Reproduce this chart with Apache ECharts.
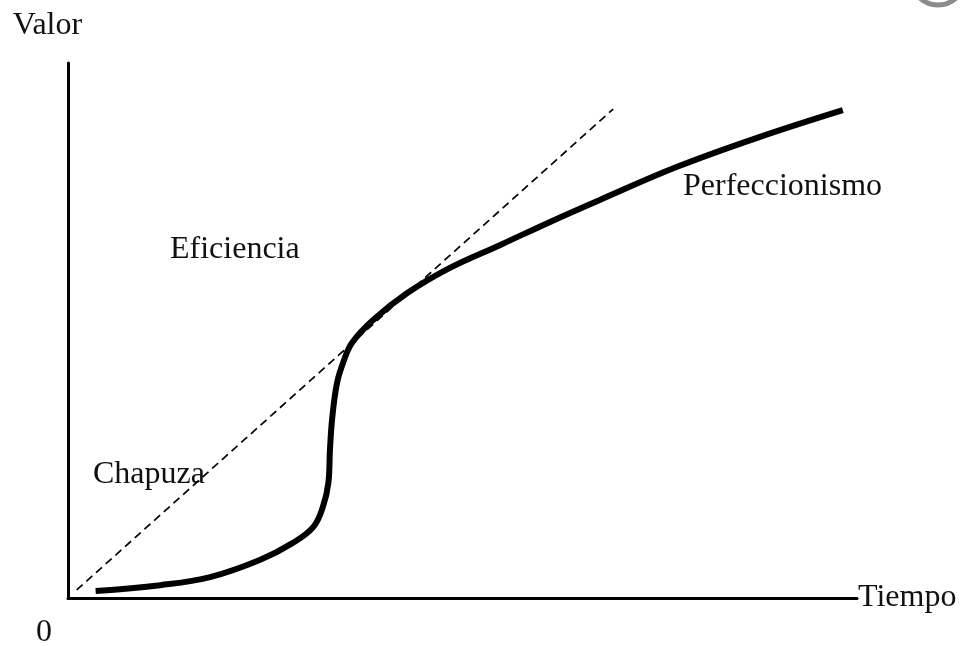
<!DOCTYPE html>
<html>
<head>
<meta charset="utf-8">
<script src="https://cdn.jsdelivr.net/npm/echarts@6/dist/echarts.min.js"></script>
<style>
    html, body { margin: 0; padding: 0; background: #fff; }
    #chart { width: 970px; height: 646px; }
</style>
</head>
<body>
<div id="chart"></div>
<script>
// curva de valor vs tiempo (unidades 0-100 en ambos ejes)
var tiempo = [3.5, 11.7, 18.0, 24.3, 28.5, 31.1, 32.3, 33.0, 33.2, 33.5, 34.1, 34.9, 36.0, 38.7, 43.0, 48.4, 54.8, 61.1, 67.4, 77.2, 87.7, 98.2];
var valor = [1.3, 2.4, 3.9, 7.1, 10.3, 13.3, 17.0, 21.5, 27.7, 33.8, 40.2, 44.1, 47.7, 52.0, 57.0, 61.7, 66.0, 70.3, 74.4, 80.6, 86.2, 91.2];

// recta de eficiencia (discontinua)
var rectaX = [1.1, 69.1];
var rectaY = [1.5, 91.4];

var etiquetas = ['Chapuza', 'Eficiencia', 'Perfeccionismo'];

var fuente = '"Liberation Serif", "DejaVu Serif", serif';

var myChart = echarts.init(document.getElementById('chart'));

function texto(t, x, y) {
    return {
        type: 'text',
        left: x,
        top: y,
        style: { text: t, fill: '#111', font: '32px ' + fuente }
    };
}

myChart.setOption({
    animation: false,
    backgroundColor: '#fff',
    grid: { left: 68, right: 113, top: 63, bottom: 48 },
    xAxis: {
        type: 'value',
        min: 0,
        max: 100,
        name: 'Tiempo',
        nameLocation: 'end',
        nameGap: 1,
        nameTextStyle: { fontFamily: fuente, fontSize: 32, color: '#111' },
        axisLine: { show: true, lineStyle: { color: '#000', width: 3 } },
        axisTick: { show: false },
        axisLabel: { show: false },
        splitLine: { show: false }
    },
    yAxis: {
        type: 'value',
        min: 0,
        max: 100,
        name: 'Valor',
        nameLocation: 'end',
        nameGap: 37,
        nameTextStyle: {
            fontFamily: fuente, fontSize: 32, color: '#111',
            verticalAlign: 'middle', align: 'center', padding: [0, 41, 0, 0]
        },
        axisLine: { show: true, lineStyle: { color: '#000', width: 3 } },
        axisTick: { show: false },
        axisLabel: { show: false },
        splitLine: { show: false }
    },
    graphic: [
        texto(etiquetas[0], 93, 459),
        texto(etiquetas[1], 170, 234),
        texto(etiquetas[2], 683, 171),
        texto('0', 36, 617),
        {
            type: 'circle',
            shape: { cx: 938, cy: -22, r: 27 },
            style: { fill: 'none', stroke: '#8c8c8c', lineWidth: 5 }
        }
    ],
    series: [
        {
            name: 'Eficiencia',
            type: 'line',
            data: rectaX.map((v, i) => [v, rectaY[i]]),
            symbol: 'none',
            lineStyle: { color: '#000', width: 1.7, type: [8, 5] }
        },
        {
            name: 'Valor',
            type: 'line',
            data: tiempo.map((v, i) => [v, valor[i]]),
            symbol: 'none',
            smooth: 0.4,
            lineStyle: { color: '#000', width: 6 }
        }
    ]
});
</script>
</body>
</html>
